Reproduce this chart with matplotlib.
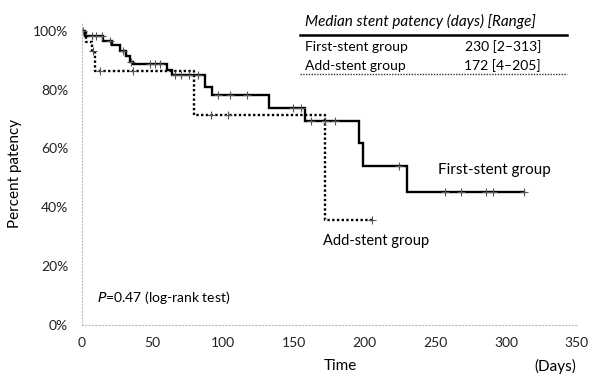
import numpy as np
import matplotlib
matplotlib.use('Agg')
import matplotlib.pyplot as plt

plt.rcParams['font.family'] = ['Lato', 'DejaVu Sans']

# First-stent group: step days and survival level after each step
first_days = [0, 2, 15, 21, 27, 31, 34, 36, 60, 64, 87, 92, 132, 158, 196, 199, 230]
first_surv = [1.0, 0.983, 0.966, 0.950, 0.932, 0.915, 0.895, 0.887, 0.867, 0.848,
              0.810, 0.782, 0.737, 0.692, 0.620, 0.540, 0.453]
first_end = 313
first_cens = [1, 7, 10, 14, 20, 29, 35, 48, 52, 55, 66, 70, 76, 82, 96, 105, 117,
              149, 155, 162, 172, 179, 224, 257, 268, 286, 291, 313]

# Add-stent group
add_days = [0, 3, 7, 9, 79, 172]
add_surv = [1.0, 0.96, 0.93, 0.862, 0.714, 0.357]
add_end = 205
add_cens = [8, 13, 36, 91, 103, 205]

xticks = [0, 50, 100, 150, 200, 250, 300, 350]
yticks = [0, 0.2, 0.4, 0.6, 0.8, 1.0]
ytick_labels = ['0%', '20%', '40%', '60%', '80%', '100%']

table_header = 'Median stent patency (days) [Range]'
table_rows = [('First-stent group', '230 [2–313]'), ('Add-stent group', '172 [4–205]')]


def level_at(days, surv, t):
    idx = np.searchsorted(days, t, side='right') - 1
    return np.array(surv)[idx]


fig = plt.figure(figsize=(5.94, 3.77), dpi=100)
ax = fig.add_axes([0.138, 0.138, 0.833, 0.804])

# curves
ax.step(first_days + [first_end], first_surv + [first_surv[-1]], where='post',
        color='black', lw=1.7, solid_joinstyle='miter')
ax.step(add_days + [add_end], add_surv + [add_surv[-1]], where='post',
        color='black', lw=1.7, linestyle=(0, (1, 1)))

# censor marks
ax.plot(first_cens, level_at(first_days, first_surv, first_cens), '+',
        color='#555555', ms=6, mew=0.8)
ax.plot(add_cens, level_at(add_days, add_surv, add_cens), '+',
        color='#555555', ms=6, mew=0.8)

ax.set_xlim(0, 350)
ax.set_ylim(0, 1.03)
ax.set_xticks(xticks)
ax.set_yticks(yticks)
ax.set_yticklabels(ytick_labels)
ax.tick_params(length=0, labelsize=10, colors='#222222')
ax.tick_params(axis='y', pad=10)
ax.tick_params(axis='x', pad=9)

for side in ['top', 'right']:
    ax.spines[side].set_visible(False)
for side in ['left', 'bottom']:
    ax.spines[side].set_color('#bbbbbb')
    ax.spines[side].set_linestyle((0, (1, 2)))
    ax.spines[side].set_linewidth(0.8)

ax.set_ylabel('Percent patency', fontsize=11, labelpad=8)
fig.text(340 / 594, 1 - 366 / 377, 'Time', fontsize=11, ha='center', va='center')
fig.text(555 / 594, 1 - 366 / 377, '(Days)', fontsize=11, ha='center', va='center')

# group labels
fig.text(438 / 594, 1 - 170 / 377, 'First-stent group', fontsize=11, ha='left', va='center')
fig.text(323 / 594, 1 - 241 / 377, 'Add-stent group', fontsize=10.5, ha='left', va='center')
fig.text(97 / 594, 1 - 298 / 377, r'$\mathit{P}$=0.47 (log-rank test)', fontsize=10,
         ha='left', va='center')

# median table
fig.text(305 / 594, 1 - 21 / 377, table_header, fontsize=11, style='italic',
         ha='left', va='center')
fig.add_artist(plt.Line2D([300 / 594, 567 / 594], [1 - 35 / 377] * 2,
                          color='black', lw=1.8))
for i, (name, val) in enumerate(table_rows):
    y = 1 - (47 + 19 * i) / 377
    fig.text(305 / 594, y, name, fontsize=10, ha='left', va='center')
    fig.text(541 / 594, y, val, fontsize=10, ha='right', va='center')
fig.add_artist(plt.Line2D([300 / 594, 567 / 594], [1 - 74 / 377] * 2,
                          color='#333333', lw=1.0, linestyle=(0, (1, 1))))

fig.savefig('out.png', dpi=100, facecolor='white')
